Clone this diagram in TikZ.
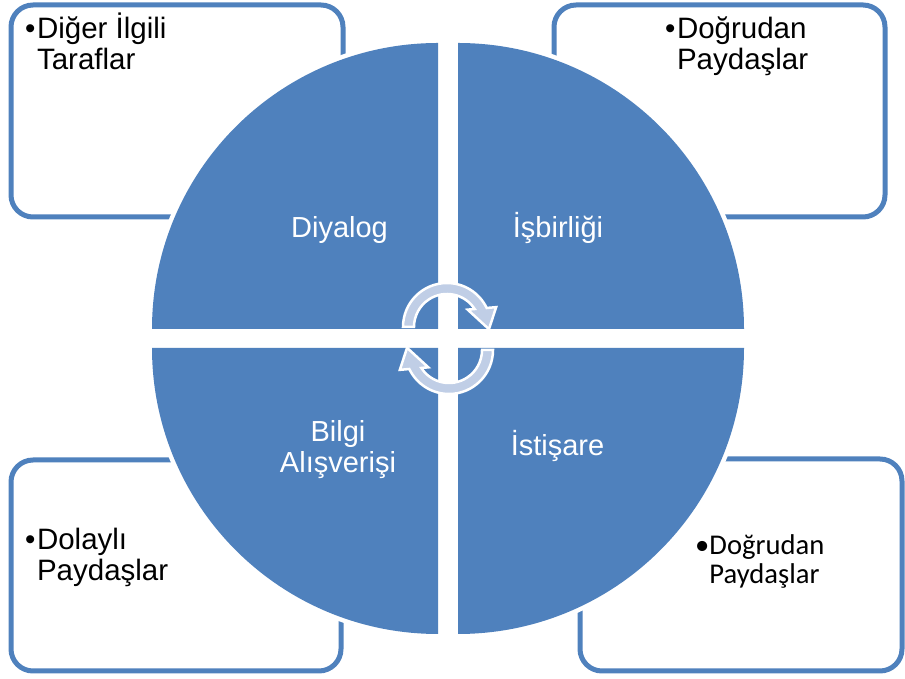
\documentclass[tikz,border=0pt]{standalone}
\usepackage{fontspec}
\setmainfont{Liberation Sans}
\newfontfamily\carlitofont{Carlito}
\definecolor{qblue}{RGB}{79,129,189}
\definecolor{arrowfill}{RGB}{192,206,230}
\begin{document}
\begin{tikzpicture}[x=1pt,y=1pt,
  box/.style={draw=qblue, line width=5pt, rounded corners=22pt, fill=white, inner sep=0pt},
  quad/.style={fill=qblue, preaction={draw=white, line width=9pt}},
  blbl/.style={inner sep=0pt, font=\fontsize{29.5}{30}\selectfont, text=black},
  qlbl/.style={inner sep=0pt, font=\fontsize{29}{31}\selectfont, text=white},
  cyc/.style={fill=arrowfill, draw=white, line width=2.5pt, line join=miter}]
\useasboundingbox (0,0) rectangle (905,679);
% corner boxes
\node[box, minimum width=332pt, minimum height=212pt] (boxTL) at (177,568) {};
\node[box, minimum width=331pt, minimum height=212pt] (boxTR) at (719.5,568) {};
\node[box, minimum width=330pt, minimum height=211pt] (boxBL) at (176,113.5) {};
\node[box, minimum width=322pt, minimum height=212pt] (boxBR) at (741,114) {};
% quadrants
\path[quad] (438,350) -- (152,350) arc[start angle=180, end angle=90, radius=286pt] -- cycle;
\path[quad] (458,350) -- (458,636) arc[start angle=90, end angle=0, radius=286pt] -- cycle;
\path[quad] (438,331) -- (152,331) arc[start angle=180, end angle=270, radius=286pt] -- cycle;
\path[quad] (458,331) -- (744,331) arc[start angle=0, end angle=-90, radius=286pt] -- cycle;
% box texts
\node[blbl, anchor=base west] (tTL) at (25,640) {•\kern1.5pt\begin{tabular}[t]{@{}l@{}}Diğer İlgili\\Taraflar\end{tabular}};
\node[blbl, anchor=base west] (tTR) at (665,640) {•\kern1.5pt\begin{tabular}[t]{@{}l@{}}Doğrudan\\Paydaşlar\end{tabular}};
\node[blbl, anchor=base west] (tBL) at (25,129) {•\kern1.5pt\begin{tabular}[t]{@{}l@{}}Dolaylı\\Paydaşlar\end{tabular}};
\node[blbl, anchor=base west, font=\carlitofont\fontsize{28.6}{28}\selectfont] (tBR) at (695,124) {•\begin{tabular}[t]{@{}l@{}}Doğrudan\\Paydaşlar\end{tabular}};
% quadrant labels
\node[qlbl, anchor=base] (qTL) at (339.5,441) {Diyalog};
\node[qlbl, anchor=base] (qTR) at (558,441) {İşbirliği};
\node[qlbl, anchor=base] (qBL) at (338,237) {\begin{tabular}[t]{@{}c@{}}Bilgi\\Alışverişi\end{tabular}};
\node[qlbl, anchor=base] (qBR) at (557.5,223) {İstişare};
% circular arrows
\begin{scope}[shift={(447,352)}]
\draw[cyc] (180:44pt) arc[start angle=180, end angle=25.6, radius=44pt] -- (22:53pt) -- (-3:42pt) -- (40:27pt) -- (33:33pt) arc[start angle=33, end angle=180, radius=33pt] -- cycle;
\end{scope}
\begin{scope}[shift={(449,329)}, rotate=180]
\draw[cyc] (180:44pt) arc[start angle=180, end angle=25.6, radius=44pt] -- (22:53pt) -- (-3:42pt) -- (40:27pt) -- (33:33pt) arc[start angle=33, end angle=180, radius=33pt] -- cycle;
\end{scope}
\end{tikzpicture}
\end{document}
